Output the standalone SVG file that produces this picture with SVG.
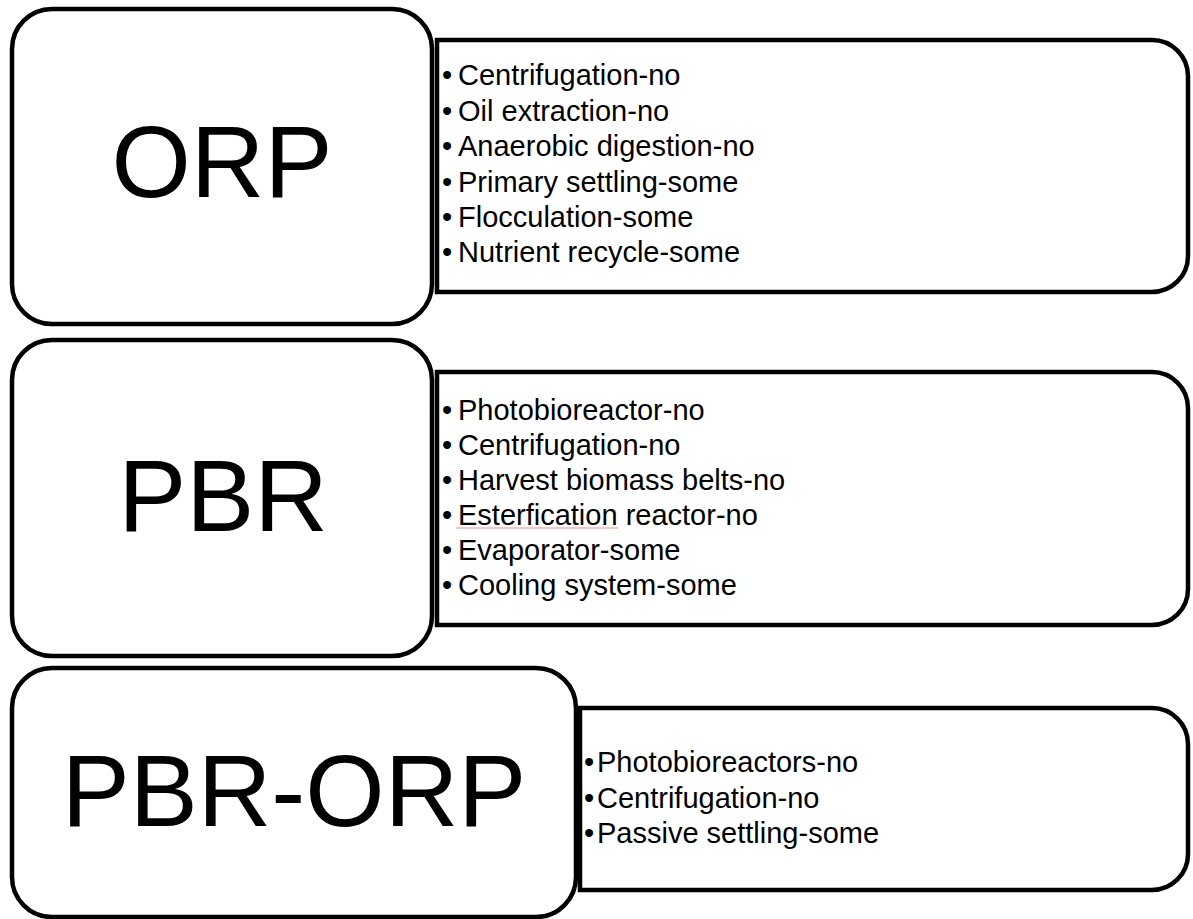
<svg xmlns="http://www.w3.org/2000/svg" width="1193" height="919" viewBox="0 0 1193 919">
<style>
.box{fill:#fff;stroke:#000;stroke-width:4.5}
.big{font-family:"Liberation Sans",Arial,sans-serif;font-size:102px;fill:#000;text-anchor:middle}
.item{font-family:"Liberation Sans",Arial,sans-serif;font-size:29px;fill:#000}
</style>
<rect width="1193" height="919" fill="#fff"/>
<g id="connectors"></g>
<g id="orp-list">
<path class="box" d="M437,40 H1152 A36,36 0 0 1 1188,76 V256 A36,36 0 0 1 1152,292 H437 Z"/>
<text class="item"><tspan x="442" y="85">•</tspan><tspan x="458" y="85">Centrifugation-no</tspan></text>
<text class="item"><tspan x="442" y="120.5">•</tspan><tspan x="458" y="120.5">Oil extraction-no</tspan></text>
<text class="item"><tspan x="442" y="156">•</tspan><tspan x="458" y="156">Anaerobic digestion-no</tspan></text>
<text class="item"><tspan x="442" y="191.5">•</tspan><tspan x="458" y="191.5">Primary settling-some</tspan></text>
<text class="item"><tspan x="442" y="227">•</tspan><tspan x="458" y="227">Flocculation-some</tspan></text>
<text class="item"><tspan x="442" y="262">•</tspan><tspan x="458" y="262">Nutrient recycle-some</tspan></text>
</g>
<g id="orp">
<rect class="box" x="12" y="9" width="420" height="315" rx="40" ry="40"/>
<text class="big" x="222" y="197">ORP</text>
</g>
<g id="pbr-list">
<path class="box" d="M437,372 H1152 A36,36 0 0 1 1188,408 V589 A36,36 0 0 1 1152,625 H437 Z"/>
<text class="item"><tspan x="442" y="420">•</tspan><tspan x="458" y="420">Photobioreactor-no</tspan></text>
<text class="item"><tspan x="442" y="455">•</tspan><tspan x="458" y="455">Centrifugation-no</tspan></text>
<text class="item"><tspan x="442" y="490">•</tspan><tspan x="458" y="490">Harvest biomass belts-no</tspan></text>
<text class="item"><tspan x="442" y="525">•</tspan><tspan x="458" y="525">Esterfication reactor-no</tspan></text>
<line x1="456" y1="528" x2="618" y2="528" stroke="#f08a8a" stroke-width="1"/>
<text class="item"><tspan x="442" y="560">•</tspan><tspan x="458" y="560">Evaporator-some</tspan></text>
<text class="item"><tspan x="442" y="595">•</tspan><tspan x="458" y="595">Cooling system-some</tspan></text>
</g>
<g id="pbr">
<rect class="box" x="12" y="340" width="420" height="316" rx="40" ry="40"/>
<text class="big" x="223" y="531">PBR</text>
</g>
<g id="pbrorp-list">
<path class="box" d="M580,708 H1152 A36,36 0 0 1 1188,744 V854 A36,36 0 0 1 1152,890 H580 Z"/>
<text class="item"><tspan x="584" y="772">•</tspan><tspan x="597" y="772">Photobioreactors-no</tspan></text>
<text class="item"><tspan x="584" y="807.5">•</tspan><tspan x="597" y="807.5">Centrifugation-no</tspan></text>
<text class="item"><tspan x="584" y="843">•</tspan><tspan x="597" y="843">Passive settling-some</tspan></text>
</g>
<g id="pbr-orp">
<rect class="box" x="12" y="668" width="564" height="249" rx="40" ry="40"/>
<text class="big" x="294" y="826">PBR-ORP</text>
</g>
</svg>
